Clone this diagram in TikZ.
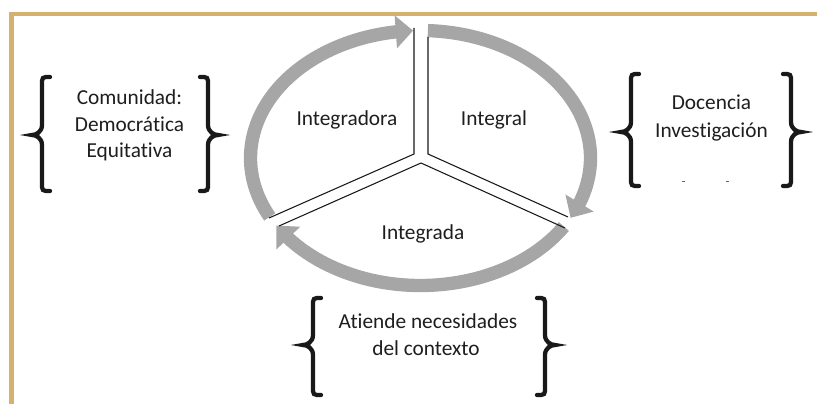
\documentclass[tikz,border=0pt]{standalone}
\usepackage{fontspec}
\setmainfont{Carlito}[Ligatures={NoCommon,NoContextual}]
\usetikzlibrary{arrows.meta,bending,calc}
\definecolor{ringgray}{RGB}{166,166,166}
\definecolor{frametan}{RGB}{212,177,110}
\definecolor{txt}{RGB}{30,30,30}
\newcommand\mybrace[5]{%
  \draw[bracestroke] ({#1+(#2)*18},#3) .. controls ({#1+(#2)*10},#3) .. ({#1+(#2)*10},{#3-8})
    -- ({#1+(#2)*10},{#5+10}) .. controls ({#1+(#2)*10},{#5+3}) and ({#1+(#2)*4},#5) .. (#1,#5)
    .. controls ({#1+(#2)*4},#5) and ({#1+(#2)*10},{#5-3}) .. ({#1+(#2)*10},{#5-10})
    -- ({#1+(#2)*10},{#4+8}) .. controls ({#1+(#2)*10},#4) .. ({#1+(#2)*18},#4);}
\begin{document}
\begin{tikzpicture}[x=0.75pt,y=0.75pt,
  framestroke/.style={draw=frametan,line width=3.5pt},
  ringarrow/.style={draw=ringgray,line width=10pt,-{Triangle[width=24pt,length=13pt]}},
  gapline/.style={draw=black!90,line width=0.8pt},
  bracestroke/.style={draw=black!90,line width=3.2pt,line cap=round},
  lbl/.style={inner sep=0pt,anchor=base,text=txt,font=\fontsize{16}{19}\selectfont}]
\useasboundingbox (0,0) rectangle (817,404);
% frame
\draw[framestroke] (817,390) -- (11.5,390) -- (11.5,0);
% ring arrows
\coordinate (C) at (420.5,246);
\draw[ringarrow] ($(C)+(87.5:170 and 127.5)$) arc[start angle=87.5,end angle=-28,x radius=170,y radius=127.5];
\draw[ringarrow] ($(C)+(-32.5:170 and 127.5)$) arc[start angle=-32.5,end angle=-148,x radius=170,y radius=127.5];
\draw[ringarrow] ($(C)+(207.5:170 and 127.5)$) arc[start angle=207.5,end angle=92.5,x radius=170,y radius=127.5];
% gap lines
\coordinate (a1) at (414,376); \coordinate (a2) at (414,250); \coordinate (a3) at (269,186);
\coordinate (b1) at (428,367); \coordinate (b2) at (428,250); \coordinate (b3) at (568,187);
\coordinate (c1) at (279,178); \coordinate (c2) at (421,241); \coordinate (c3) at (565,176);
\draw[gapline] (a1) -- (a2) -- (a3);
\draw[gapline] (b1) -- (b2) -- (b3);
\draw[gapline] (c1) -- (c2) -- (c3);
% inner labels
\node[lbl] (integradora) at (347,278) {Integradora};
\node[lbl] (integral) at (494,278) {Integral};
\node[lbl] (integrada) at (423,165) {Integrada};
% left group
\mybrace{32}{1}{327}{213}{269}
\mybrace{218}{-1}{327}{213}{269}
\node[lbl] (com1) at (129.5,299) {Comunidad:};
\node[lbl] (com2) at (129.5,272) {Democrática};
\node[lbl] (com3) at (129.5,246) {Equitativa};
% right group
\mybrace{621}{1}{330}{218}{272}
\mybrace{801}{-1}{330}{218}{272}
\node[lbl] (doc1) at (711.5,294) {Docencia};
\node[lbl] (doc2) at (711.5,267) {Investigación};
\fill[black!60] (682,222.5) rectangle (684.5,223.5);
\fill[black!60] (726,222.5) rectangle (728.5,223.5);
% bottom group
\mybrace{303}{1}{106}{9}{59}
\mybrace{555}{-1}{106}{9}{59}
\node[lbl] (ctx1) at (428,76) {Atiende necesidades};
\node[lbl] (ctx2) at (426,49) {del contexto};
\end{tikzpicture}
\end{document}
